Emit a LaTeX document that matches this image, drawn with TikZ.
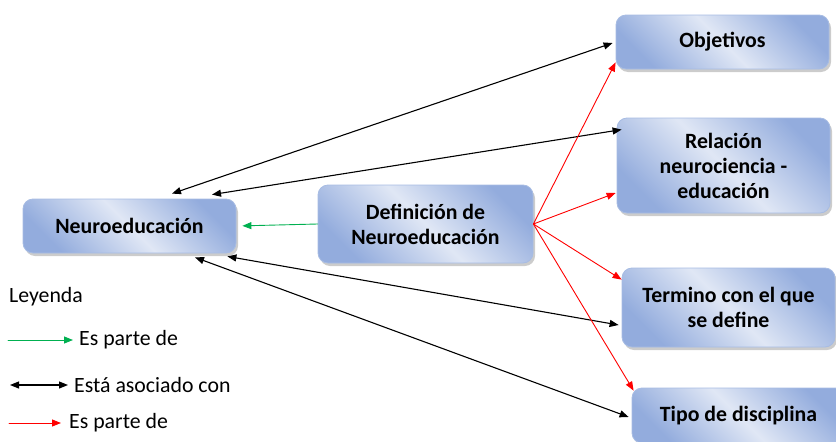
\documentclass[tikz,border=0pt]{standalone}
\usepackage{fontspec}
\setmainfont{Carlito}
\usetikzlibrary{arrows,arrows.meta,shadows}
\definecolor{boxdark}{HTML}{93ACDD}
\definecolor{boxlight}{HTML}{E0E7F5}
\definecolor{boxline}{HTML}{A7BCE3}
\definecolor{partgreen}{HTML}{00B050}
\begin{document}
\begin{tikzpicture}[line cap=round,line join=round,>={Triangle[length=9pt,width=7pt]},x=1pt,y=1pt,
    concept/.style={rounded corners=10pt,draw=boxline,line width=0.8pt,left color=boxdark,right color=boxdark,middle color=boxlight,shading angle=135,
        drop shadow={shadow xshift=2pt,shadow yshift=-3pt,fill=black!40,opacity=0.5},
        minimum width=213pt,align=center,inner sep=0pt,font=\fontsize{21.8}{25}\selectfont\bfseries},
    assoc/.style={<->,line width=1.1pt,black},
    partof/.style={->,line width=0.9pt,red},
    legendtext/.style={anchor=west,inner sep=0pt,font=\fontsize{21.8}{25}\selectfont}]
    \useasboundingbox (0,0) rectangle (836,-442);
    \node[concept,minimum height=54pt] (neuro) at (129.5,-226) {Neuroeducación};
    \node[concept,minimum width=215pt,minimum height=78pt] (defin) at (425.5,-224) {Definición de\\Neuroeducación};
    \node[concept,minimum height=54pt] (obj) at (722.5,-42) {Objetivos};
    \node[concept,minimum height=95pt] (rel) at (723.5,-165.5) {Relación\\neurociencia -\\educación};
    \node[concept,minimum height=79pt] (term) at (728.5,-307.5) {Termino con el que\\se define};
    \node[concept,minimum height=55pt] (tipo) at (738.5,-415.5) {Tipo de disciplina};
    \draw[assoc] ([xshift=42.5pt,yshift=5pt]neuro.north) -- ([xshift=-3pt,yshift=-1pt]obj.west);
    \draw[assoc] ([xshift=82.5pt,yshift=4pt]neuro.north) -- ([xshift=5pt,yshift=-12pt]rel.north west);
    \draw[assoc] ([xshift=-9pt,yshift=-3pt]neuro.south east) -- ([xshift=-3pt,yshift=-17.5pt]term.west);
    \draw[assoc] ([xshift=65.5pt,yshift=-4pt]neuro.south) -- ([xshift=-3pt,yshift=-1.5pt]tipo.west);
    \draw[->,partgreen,line width=0.9pt,shorten >=6pt] (defin.west) -- (neuro.east);
    \draw[partof] (defin.east) -- ([yshift=7pt]obj.south west);
    \draw[partof] (defin.east) -- ([xshift=-1pt,yshift=-27.5pt]rel.west);
    \draw[partof] (defin.east) -- ([yshift=-12pt]term.north west);
    \draw[partof] (defin.east) -- ([xshift=2pt,yshift=-3pt]tipo.north west);
    \node[legendtext] (legend) at (9,-297) {Leyenda};
    \coordinate (greenstart) at (8,-340);
    \coordinate (greenend) at (73,-340);
    \coordinate (blackstart) at (10,-385);
    \coordinate (blackend) at (68,-385);
    \coordinate (redstart) at (9,-423);
    \coordinate (redend) at (61,-423);
    \draw[->,partgreen,line width=0.9pt] (greenstart) -- (greenend);
    \draw[assoc] (blackstart) -- (blackend);
    \draw[partof] (redstart) -- (redend);
    \node[legendtext] (greentext) at (79,-340) {Es parte de};
    \node[legendtext] (blacktext) at (74,-385) {Está asociado con};
    \node[legendtext] (redtext) at (69,-423) {Es parte de};
\end{tikzpicture}
\end{document}
